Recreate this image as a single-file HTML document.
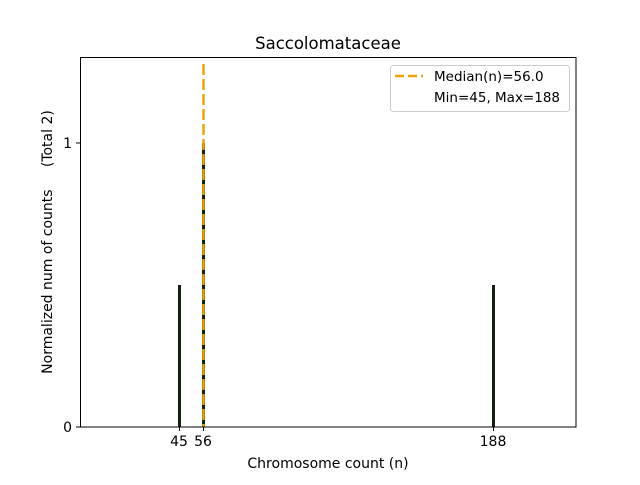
<!DOCTYPE html>
<html><head><style>body{margin:0;background:#fff}</style></head><body>
<svg width="640" height="480" xmlns="http://www.w3.org/2000/svg" font-family="DejaVu Sans, Liberation Sans, sans-serif">
<rect width="640" height="480" fill="#fff"/>
<text x="328" y="49" font-size="16.5" text-anchor="middle">Saccolomataceae</text>
<rect x="178" y="285" width="3" height="142" fill="#13200f"/>
<rect x="202" y="143" width="3" height="284" fill="#13200f"/>
<rect x="492" y="285" width="3" height="142" fill="#13200f"/>
<line x1="203.5" y1="64" x2="203.5" y2="427" stroke="#f0a30a" stroke-width="2.5" stroke-dasharray="11,4"/>
<rect x="80.5" y="57.5" width="495.5" height="369.5" fill="none" stroke="#000" stroke-width="1"/>
<g stroke="#000"><line x1="76" y1="427" x2="80" y2="427"/><line x1="76" y1="143" x2="80" y2="143"/>
<line x1="179.5" y1="427" x2="179.5" y2="431"/><line x1="203.5" y1="427" x2="203.5" y2="431"/><line x1="493.5" y1="427" x2="493.5" y2="431"/></g>
<g font-size="14" text-anchor="end"><text x="72" y="432">0</text><text x="72" y="148">1</text></g>
<g font-size="14" text-anchor="middle"><text x="179" y="446">45</text><text x="203" y="446">56</text><text x="493" y="446">188</text>
<text x="328" y="468">Chromosome count (n)</text></g>
<text transform="translate(52,242) rotate(-90)" font-size="14" text-anchor="middle" xml:space="preserve">Normalized num of counts     (Total 2)</text>
<rect x="390.5" y="65.5" width="179" height="46" rx="3" fill="#fff" stroke="#ccc"/>
<line x1="395" y1="76" x2="423" y2="76" stroke="#f0a30a" stroke-width="2.5" stroke-dasharray="9,4"/>
<g font-size="13.5"><text x="434" y="81">Median(n)=56.0</text><text x="434" y="102">Min=45, Max=188</text></g>
</svg>
</body></html>
